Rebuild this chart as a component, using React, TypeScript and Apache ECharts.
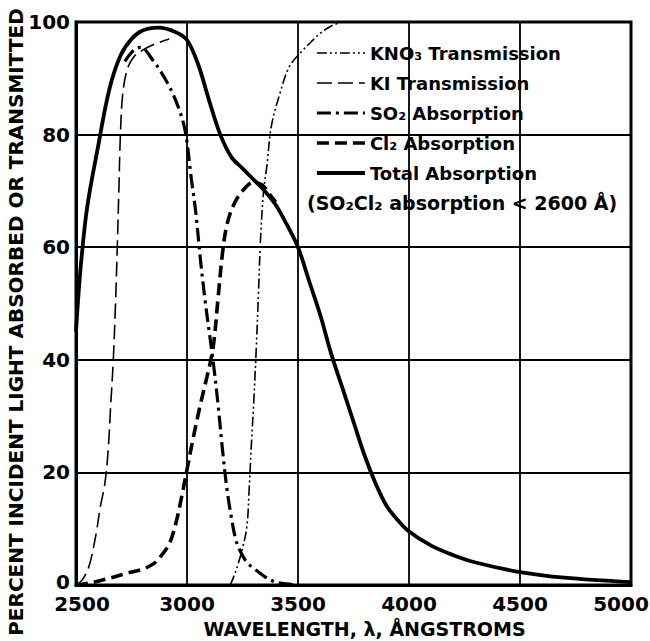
import React, { useEffect, useRef } from "react";
import * as echarts from "echarts";

// Wavelength (Å), percent
const kno3Transmission: number[][] = [
  [3195, 0], [3220, 2.5], [3250, 6.5], [3270, 10.5], [3280, 17], [3290, 25], [3300, 32],
  [3312, 42], [3322, 52], [3332, 62], [3345, 70], [3360, 74.5], [3380, 81.5], [3420, 87.5],
  [3460, 92], [3510, 94.5], [3560, 96.5], [3600, 98], [3650, 99.3], [3700, 100],
];
const kiTransmission: number[][] = [
  [2500, 0], [2530, 1], [2560, 3.5], [2590, 9], [2610, 14], [2630, 18], [2645, 24],
  [2655, 31], [2668, 40], [2678, 50], [2686, 60], [2693, 70], [2700, 80], [2710, 87],
  [2730, 91.5], [2760, 93.8], [2800, 95], [2850, 96], [2920, 97],
];
const so2Absorption: number[][] = [
  [2720, 93], [2760, 95], [2790, 95.5], [2850, 93], [2900, 90], [2950, 86], [2990, 81],
  [3020, 72], [3040, 66], [3060, 58], [3080, 51], [3100, 45], [3120, 39], [3140, 32],
  [3160, 24], [3180, 17], [3200, 12], [3220, 8], [3240, 6], [3270, 4], [3300, 3],
  [3350, 1.5], [3400, 0.5], [3450, 0.2], [3500, 0],
];
const cl2Absorption: number[][] = [
  [2500, 0], [2580, 0.5], [2650, 1.2], [2730, 2.1], [2800, 2.8], [2850, 3.8], [2880, 5],
  [2920, 7.3], [2950, 11], [2975, 15.5], [3000, 20.5], [3030, 26.5], [3060, 32], [3090, 37],
  [3117, 42], [3140, 51], [3160, 59], [3180, 64], [3210, 67.5], [3250, 70], [3300, 71.5],
  [3340, 71], [3370, 69.5], [3400, 68],
];
const totalAbsorption: number[][] = [
  [2500, 45], [2520, 56], [2550, 67], [2600, 78], [2650, 88], [2700, 94], [2750, 97],
  [2800, 98.5], [2870, 99], [2950, 98.2], [3000, 96.8], [3050, 92.5], [3100, 86],
  [3150, 80], [3200, 76], [3250, 74], [3300, 72], [3350, 70], [3400, 67.5], [3450, 64],
  [3500, 60], [3550, 54], [3600, 48], [3650, 41], [3700, 35], [3750, 29], [3800, 23],
  [3850, 18], [3900, 14], [3950, 11.5], [4000, 9.5], [4100, 7], [4200, 5.3], [4300, 4],
  [4500, 2.3], [4700, 1.3], [5000, 0.5],
];

const seriesNames = [
  "KNO₃ Transmission",
  "KI Transmission",
  "SO₂ Absorption",
  "Cl₂ Absorption",
  "Total Absorption",
];
const xTicks = { min: 2500, max: 5000, interval: 500 };
const yTicks = { min: 0, max: 100, interval: 20 };
const xTitle = "WAVELENGTH, λ, ÅNGSTROMS";
const yTitle = "PERCENT INCIDENT LIGHT ABSORBED OR TRANSMITTED";
const note = "(SO₂Cl₂ absorption < 2600 Å)";

const FONT = '"DejaVu Sans", sans-serif';

export default function App() {
  const ref = useRef<HTMLDivElement>(null);
  useEffect(() => {
    if (!ref.current) return;
    const chart = echarts.init(ref.current, null, { renderer: "svg" });
    const styles = [
      { width: 1.6, type: [10, 3, 2, 3, 2, 3] },
      { width: 1.6, type: [15, 6] },
      { width: 3.2, type: [14, 5, 3, 5] },
      { width: 3.6, type: [12, 6] },
      { width: 3.8, type: "solid" },
    ];
    const datasets = [kno3Transmission, kiTransmission, so2Absorption, cl2Absorption, totalAbsorption];
    const lblBase = { color: "#000", fontSize: 20, fontWeight: "bold", fontFamily: FONT, lineHeight: 18 };
    chart.setOption({
      animation: false,
      backgroundColor: "#fff",
      grid: {
        left: 76, right: 19, top: 22, bottom: 56,
        containLabel: false,
        outerBoundsMode: "none",
        show: true, borderColor: "#000", borderWidth: 3,
      },
      legend: {
        orient: "vertical",
        left: 310,
        top: 39,
        itemWidth: 48,
        itemHeight: 14,
        itemGap: 12,
        itemStyle: { opacity: 0 },
        textStyle: { color: "#000", fontSize: 18, fontWeight: "bold", fontFamily: FONT },
        data: seriesNames.map((n, i) => ({
          name: n,
          lineStyle: { color: "#000", width: styles[i].width, type: styles[i].type },
        })),
      },
      xAxis: {
        type: "value",
        ...xTicks,
        axisLine: { show: true, lineStyle: { color: "#000", width: 3 } },
        axisTick: { show: false },
        splitLine: { show: true, lineStyle: { color: "#000", width: 1.8 } },
        axisLabel: {
          ...lblBase,
          margin: 10,
          formatter: (v: number) =>
            v === 5000 ? "{r|" + v + "}" : v === 2500 ? "{l|" + v + "}" : String(v),
          rich: {
            r: { ...lblBase, padding: [0, 20, 0, 0] },
            l: { ...lblBase, padding: [0, 0, 0, 12] },
          },
        },
        name: xTitle,
        nameLocation: "middle",
        nameGap: 34,
        nameTextStyle: {
          color: "#000", fontSize: 19, fontWeight: "bold", fontFamily: FONT, padding: [0, 0, 0, 22],
        },
      },
      yAxis: {
        type: "value",
        ...yTicks,
        axisLine: { show: true, lineStyle: { color: "#000", width: 3 } },
        axisTick: { show: false },
        splitLine: { show: true, lineStyle: { color: "#000", width: 1.8 } },
        axisLabel: {
          ...lblBase,
          margin: 6,
          formatter: (v: number) => (v === 0 ? "{z|0}" : String(v)),
          rich: { z: { ...lblBase, padding: [0, 0, 6, 0] } },
        },
      },
      graphic: [
        {
          type: "text",
          x: 16,
          y: 322,
          rotation: Math.PI / 2,
          style: {
            text: yTitle,
            fill: "#000",
            font: 'bold 20px "DejaVu Sans", sans-serif',
            align: "center",
            verticalAlign: "middle",
            textAlign: "center",
            textVerticalAlign: "middle",
          },
        },
        {
          type: "text",
          x: 307,
          y: 203,
          style: {
            text: note,
            fill: "#000",
            font: 'bold 19px "DejaVu Sans", sans-serif',
            align: "left",
            verticalAlign: "middle",
            textAlign: "left",
            textVerticalAlign: "middle",
          },
        },
      ],
      series: seriesNames.map((n, i) => ({
        name: n,
        type: "line",
        data: datasets[i],
        symbol: "none",
        smooth: 0.35,
        lineStyle: { color: "#000", width: styles[i].width, type: styles[i].type },
        itemStyle: { color: "#000" },
        z: 3 + i,
      })),
    });
    return () => chart.dispose();
  }, []);
  return <div ref={ref} style={{ width: 650, height: 641, position: "absolute", left: 0, top: 0 }} />;
}
